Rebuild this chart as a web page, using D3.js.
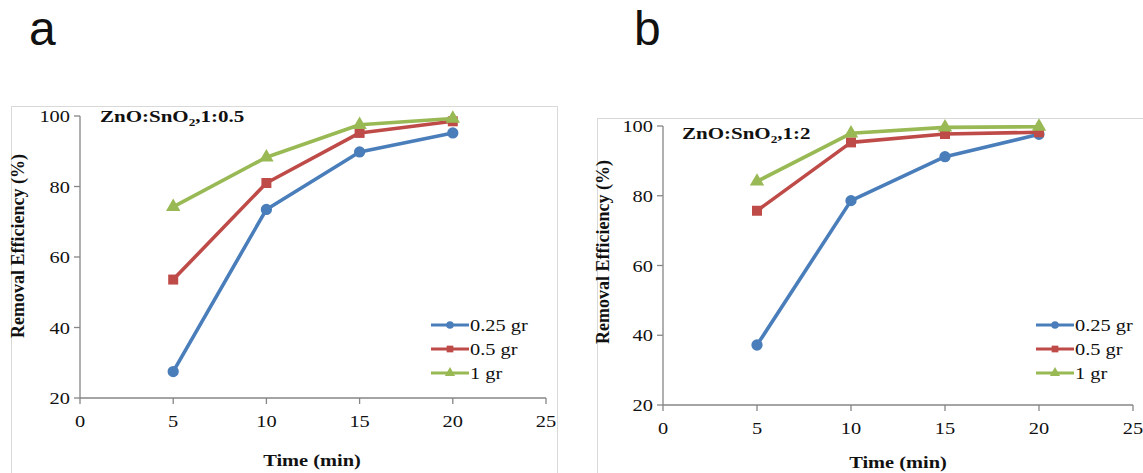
<!DOCTYPE html>
<title>Removal efficiency</title>
<body>
<script src="https://d3js.org/d3.v7.min.js" charset="utf-8"></script>
<style>
  html, body {
    width: 100%;
    height: 100%;
    margin: 0;
    overflow: hidden;
    background: #fff;
  }
  .serif { font-family: "Liberation Serif", "Times New Roman", Times, serif; }
  .sans { font-family: "Liberation Sans", Arial, Helvetica, sans-serif; }
</style>
<script>
  // values
  var times = [5, 10, 15, 20];
  var seriesNames = ["0.25 gr", "0.5 gr", "1 gr"];
  var colors = ["#4a7ebb", "#be4b48", "#98b954"];
  var shapes = [d3.symbolCircle, d3.symbolSquare, d3.symbolTriangle];
  var xTicks = [0, 5, 10, 15, 20, 25];
  var yTicks = [20, 40, 60, 80, 100];

  var panelA = [
    [27.5, 73.5, 89.8, 95.2],
    [53.6, 81.0, 95.2, 98.5],
    [74.2, 88.3, 97.5, 99.3]
  ];
  var panelB = [
    [37.2, 78.6, 91.2, 97.6],
    [75.7, 95.3, 97.7, 98.2],
    [84.1, 97.9, 99.6, 99.8]
  ];

  var W = 1143, H = 473,
    sx = 1.2; // the figure is a bit stretched sideways

  var svg = d3.select("body").append("svg")
    .attr("width", W)
    .attr("height", H);

  function txt(g, x, y, s, size, opts) {
    opts = opts || {};
    var t = g.append("text")
      .attr("class", opts.sans ? "sans" : "serif")
      .attr("transform", "translate(" + x + "," + y + ") scale(" + (opts.sx || sx) + ",1)" + (opts.rot ? " rotate(" + opts.rot + ")" : ""))
      .attr("text-anchor", opts.anchor || "start")
      .style("font-size", size + "px")
      .style("font-weight", opts.bold ? "bold" : "normal")
      .attr("fill", "#111");
    if (typeof s === "string") t.text(s);
    else s(t);
    return t;
  }

  function panel(p) {
    var g = svg.append("g");

    g.append("rect")
      .attr("x", p.box[0] + 0.5).attr("y", p.box[1] + 0.5)
      .attr("width", p.box[2]).attr("height", p.box[3])
      .attr("fill", "#fff").attr("stroke", "#d9d9d9");

    txt(g, p.letter[0], p.letter[1], p.name, 48, { sans: true, sx: 1 });

    var x = d3.scaleLinear().domain([0, 25]).range(p.xr);
    var y = d3.scaleLinear().domain([20, 100]).range(p.yr);

    // axes
    var ax = g.append("g").attr("stroke", "#868686").attr("stroke-width", 1.3);
    ax.append("line").attr("x1", x(0)).attr("x2", x(0)).attr("y1", y(20)).attr("y2", y(100));
    ax.append("line").attr("x1", x(0)).attr("x2", x(25)).attr("y1", y(20)).attr("y2", y(20));
    yTicks.forEach(function(v) {
      ax.append("line").attr("x1", x(0) - 6).attr("x2", x(0)).attr("y1", y(v)).attr("y2", y(v));
      txt(g, x(0) - 10, y(v) + 6, String(v), 17, { anchor: "end" });
    });
    xTicks.forEach(function(v) {
      ax.append("line").attr("x1", x(v)).attr("x2", x(v)).attr("y1", y(20)).attr("y2", y(20) + 6);
      txt(g, x(v), y(20) + 29, String(v), 17, { anchor: "middle" });
    });

    // title
    txt(g, p.title[0], p.title[1], function(t) {
      t.append("tspan").text("ZnO:SnO");
      t.append("tspan").style("font-size", "11px").attr("dy", 4).text("2");
      t.append("tspan").attr("dy", -4).text("," + p.ratio);
    }, 17.5, { bold: true });

    // axis titles
    txt(g, p.ylab[0], p.ylab[1], "Removal Efficiency (%)", 18, { bold: true, anchor: "middle", rot: -90, sx: 1.1 });
    txt(g, p.xlab[0], p.xlab[1], "Time (min)", 17, { bold: true, anchor: "middle" });

    var line = d3.line().x(function(d, i) { return x(times[i]); }).y(function(d) { return y(d); });

    p.data.forEach(function(vals, s) {
      g.append("path")
        .attr("d", line(vals))
        .attr("fill", "none")
        .attr("stroke", colors[s])
        .attr("stroke-width", 3.6)
        .attr("stroke-linejoin", "round");
      g.selectAll(null).data(vals).enter().append("path")
        .attr("transform", function(d, i) { return "translate(" + x(times[i]) + "," + y(d) + ")"; })
        .attr("d", d3.symbol().type(shapes[s]).size(s === 2 ? 90 : 100))
        .attr("fill", colors[s]);
    });

    // legend
    seriesNames.forEach(function(nm, s) {
      var ly = p.leg[1] + s * 24;
      g.append("line")
        .attr("x1", p.leg[0]).attr("x2", p.leg[0] + 38)
        .attr("y1", ly).attr("y2", ly)
        .attr("stroke", colors[s]).attr("stroke-width", 3);
      g.append("path")
        .attr("transform", "translate(" + (p.leg[0] + 19) + "," + ly + ")")
        .attr("d", d3.symbol().type(shapes[s]).size(45))
        .attr("fill", colors[s]);
      txt(g, p.leg[0] + 39, ly + 6, nm, 17);
    });
  }

  panel({
    name: "a", ratio: "1:0.5", data: panelA,
    box: [11, 106, 546, 370],
    letter: [29, 45],
    xr: [80, 546], yr: [398, 116],
    title: [100, 122],
    ylab: [24, 246],
    xlab: [312, 466],
    leg: [431, 325]
  });

  panel({
    name: "b", ratio: "1:2", data: panelB,
    box: [597, 118, 560, 370],
    letter: [634, 45],
    xr: [663, 1133], yr: [405, 126],
    title: [682, 139],
    ylab: [609, 252],
    xlab: [898, 468],
    leg: [1036, 325]
  });
</script>
